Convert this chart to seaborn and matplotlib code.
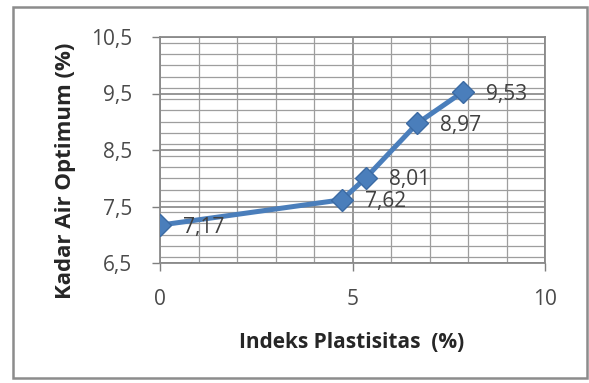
import matplotlib
matplotlib.use("Agg")
import matplotlib.pyplot as plt
from matplotlib.patches import Rectangle
from matplotlib.ticker import MultipleLocator, FixedLocator, FuncFormatter
import seaborn as sns
import pandas as pd

# Indeks plastisitas vs kadar air optimum
indeks_plastisitas = [0.0, 4.73, 5.35, 6.68, 7.87]
kadar_air_optimum = [7.17, 7.62, 8.01, 8.97, 9.53]
label_nilai = ["7,17", "7,62", "8,01", "8,97", "9,53"]
x_ticks = [0, 5, 10]
y_ticks = [6.5, 7.5, 8.5, 9.5, 10.5]

df = pd.DataFrame({"ip": indeks_plastisitas, "kao": kadar_air_optimum})

sns.set_style("white")
plt.rcParams["font.family"] = ["Open Sans", "DejaVu Sans"]

W, H = 589, 383
fig = plt.figure(figsize=(W / 100, H / 100), dpi=100)
ax = fig.add_axes([160 / W, 1 - 263 / H, 385 / W, 226 / H])

line_color = "#4a7ebb"
sns.lineplot(data=df, x="ip", y="kao", ax=ax, color=line_color, linewidth=3.6,
             marker="D", markersize=11, markeredgecolor="#3b6aa3",
             markeredgewidth=1, zorder=5)

ax.set_xlim(0, 10)
ax.set_ylim(6.5, 10.5)
ax.xaxis.set_major_locator(FixedLocator(x_ticks))
ax.yaxis.set_major_locator(FixedLocator(y_ticks))
ax.xaxis.set_minor_locator(MultipleLocator(1))
ax.yaxis.set_minor_locator(MultipleLocator(0.2))
comma = FuncFormatter(lambda v, p: (f"{v:g}").replace(".", ","))
ax.xaxis.set_major_formatter(comma)
ax.yaxis.set_major_formatter(comma)

ax.grid(which="major", color="#7a7a7a", linewidth=1.1)
ax.grid(which="minor", color="#9e9e9e", linewidth=0.9)
ax.set_axisbelow(True)
for s in ax.spines.values():
    s.set_color("#8a8a8a")
    s.set_linewidth(1.3)

ax.tick_params(axis="both", which="major", length=6, width=1, color="#7f7f7f",
               labelsize=15, labelcolor="#4a4a4a", direction="out")
ax.tick_params(axis="y", which="major", pad=14)
ax.tick_params(axis="x", which="major", pad=13)
ax.tick_params(axis="both", which="minor", length=0)
ax.xaxis.set_ticks_position("bottom")
ax.yaxis.set_ticks_position("left")

ax.set_xlabel("")
ax.set_ylabel("")
fig.text(352 / W, 1 - 342 / H, "Indeks Plastisitas  (%)", fontsize=15,
         fontweight="bold", color="#262626", ha="center", va="center")
fig.text(65 / W, 1 - 171 / H, "Kadar Air Optimum (%)", fontsize=16,
         fontweight="bold", color="#262626", ha="center", va="center",
         rotation=90)

for x, y, t in zip(indeks_plastisitas, kadar_air_optimum, label_nilai):
    ax.text(x + 0.6, y - 0.04, t, fontsize=15, color="#404040", va="center",
            ha="left", zorder=6)

# Outer chart frame
fig.patches.append(Rectangle((13 / W, 5 / H), 574 / W, 371 / H,
                             transform=fig.transFigure, fill=False,
                             edgecolor="#8c8c8c", linewidth=1.8))

fig.savefig("out.png", dpi=100)
